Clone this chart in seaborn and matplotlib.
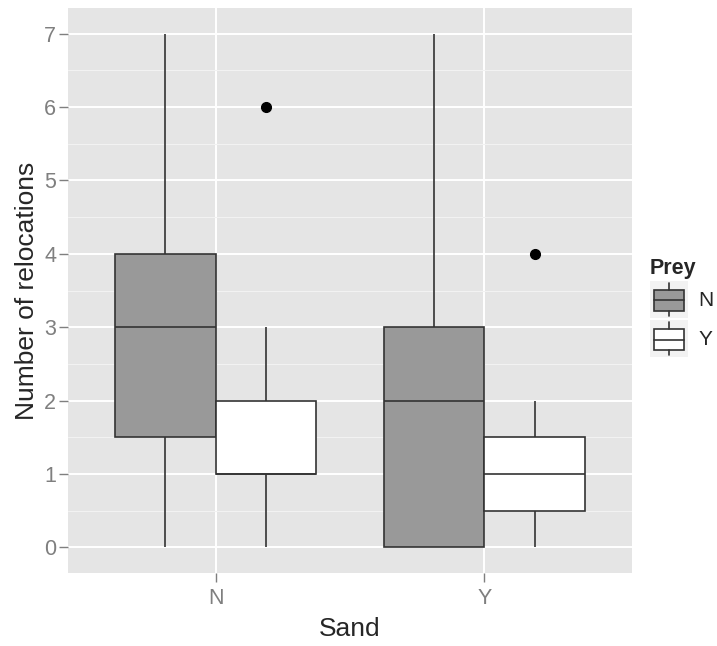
import numpy as np
import pandas as pd
import matplotlib
matplotlib.use("Agg")
import matplotlib.pyplot as plt
from matplotlib.patches import Rectangle, Patch
from matplotlib.lines import Line2D
from matplotlib.legend_handler import HandlerBase
import seaborn as sns

sand_n_prey_n = [0, 1, 2, 3, 4, 4, 7]
sand_n_prey_y = [0, 1, 1, 1, 1, 2, 2, 3, 6]
sand_y_prey_n = [0, 0, 0, 2, 3, 3, 7]
sand_y_prey_y = [0, 0, 1, 1, 1, 2, 4]

sand_levels = ["N", "Y"]
prey_levels = ["N", "Y"]
y_ticks = [0, 1, 2, 3, 4, 5, 6, 7]

groups = [("N", "N", sand_n_prey_n), ("N", "Y", sand_n_prey_y),
          ("Y", "N", sand_y_prey_n), ("Y", "Y", sand_y_prey_y)]
df = pd.DataFrame([(s, p, v) for s, p, vals in groups for v in vals],
                  columns=["Sand", "Prey", "relocations"])

sns.set_style("white")
plt.rcParams["font.family"] = ["Liberation Sans", "DejaVu Sans"]

PANEL = "#E5E5E5"
EDGE = "#333333"
TICK = "#7F7F7F"
FILLS = {"N": "#999999", "Y": "#FFFFFF"}

fig = plt.figure(figsize=(7.17, 6.46), dpi=100)
ax = fig.add_axes([68 / 717, 1 - 573 / 646, (632 - 68) / 717, (573 - 8) / 646])
ax.set_facecolor(PANEL)

sns.boxplot(data=df, x="Sand", y="relocations", hue="Prey",
            order=sand_levels, hue_order=prey_levels, palette=FILLS,
            width=0.75, gap=0, saturation=1, linecolor=EDGE, linewidth=1.2,
            whis=1.5, legend=False, ax=ax,
            capprops={"linewidth": 0},
            flierprops={"marker": "o", "markerfacecolor": "black",
                        "markeredgecolor": "black", "markersize": 7})

ax.set_ylim(-0.35, 7.35)
ax.set_xlim(-0.55, 1.55)
ax.set_yticks(y_ticks)
ax.set_yticks(np.arange(0.5, 7.5, 1), minor=True)

ax.grid(True, which="major", color="white", linewidth=1.4)
ax.grid(True, which="minor", axis="y", color="#F2F2F2", linewidth=0.8)
ax.set_axisbelow(True)
for sp in ax.spines.values():
    sp.set_visible(False)

ax.tick_params(axis="both", which="major", left=True, bottom=True,
               length=6.5, width=1, color=TICK, labelcolor=TICK,
               labelsize=15.5)
ax.tick_params(axis="y", pad=2)
ax.tick_params(axis="x", pad=4)
ax.tick_params(axis="both", which="minor", length=0)

ax.set_xlabel("Sand", fontsize=19, labelpad=6)
ax.set_ylabel("Number of relocations", fontsize=19, labelpad=4)


class BoxKeyHandler(HandlerBase):
    def create_artists(self, legend, orig_handle, xdescent, ydescent,
                       width, height, fontsize, trans):
        x0, y0 = -xdescent, -ydescent
        bg = Rectangle((x0, y0), width, height, facecolor="#F2F2F2",
                       edgecolor="none", transform=trans)
        bx0, bx1 = x0 + 0.11 * width, x0 + 0.88 * width
        by0, by1 = y0 + 0.20 * height, y0 + 0.76 * height
        box = Rectangle((bx0, by0), bx1 - bx0, by1 - by0,
                        facecolor=orig_handle.get_facecolor(), edgecolor=EDGE,
                        linewidth=1.2, transform=trans)
        xm = x0 + width / 2
        ym = (by0 + by1) / 2
        med = Line2D([bx0, bx1], [ym, ym], color=EDGE, lw=1.2, transform=trans)
        w1 = Line2D([xm, xm], [by1, y0 + 0.95 * height], color=EDGE, lw=1.2,
                    transform=trans)
        w2 = Line2D([xm, xm], [y0 + 0.05 * height, by0], color=EDGE, lw=1.2,
                    transform=trans)
        return [bg, box, med, w1, w2]


handles = [Patch(facecolor=FILLS[p], edgecolor=EDGE) for p in prey_levels]
leg = fig.legend(handles, prey_levels, title="Prey",
                 handler_map={Patch: BoxKeyHandler()},
                 loc="upper left", bbox_to_anchor=(650 / 717, 1 - 258 / 646),
                 frameon=False, fontsize=15, title_fontsize=15.5,
                 handlelength=1.83, handleheight=2.36, labelspacing=0.1,
                 handletextpad=0.5, borderpad=0, borderaxespad=0,
                 alignment="left")
leg.get_title().set_fontweight("bold")

fig.savefig("out.png", dpi=100)
